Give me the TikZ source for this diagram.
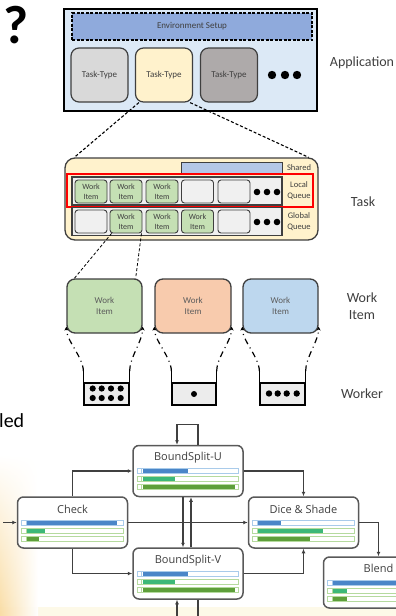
\documentclass[tikz,border=0pt]{standalone}
\usepackage{fontspec}
\setmainfont{Carlito}
\newfontfamily\flowfont{Open Sans}
\usetikzlibrary{arrows.meta,calc,fadings}

\definecolor{ink}{HTML}{3F3F3F}
\definecolor{appfill}{HTML}{DCE9F6}
\definecolor{envfill}{HTML}{8FAADC}
\definecolor{ttgray}{HTML}{D9D9D9}
\definecolor{ttcream}{HTML}{FFF2CC}
\definecolor{tttaupe}{HTML}{AEAAAA}
\definecolor{taskfill}{HTML}{FFF2CC}
\definecolor{sharedfill}{HTML}{B4C7E7}
\definecolor{slotfill}{HTML}{F0F0F0}
\definecolor{itemgreen}{HTML}{C5E0B4}
\definecolor{itemorange}{HTML}{F8CBAD}
\definecolor{itemblue}{HTML}{BDD7EE}
\definecolor{bucketfill}{HTML}{ECECEC}
\definecolor{flowline}{HTML}{404040}
\definecolor{flowborder}{HTML}{595959}
\definecolor{trackblue}{HTML}{A9CBEA}
\definecolor{trackgreen}{HTML}{B5DA9E}
\definecolor{barblue}{HTML}{4A86C8}
\definecolor{bargreen}{HTML}{3DB878}
\definecolor{bardark}{HTML}{5E9F3A}
\definecolor{warmglow}{HTML}{F9DDA6}
\definecolor{paleband}{HTML}{FDF9E8}

% one progress row inside a flow node: node, vertical offset, track colour, bar colour, bar length
\newcommand{\flowrow}[5]{%
  \draw[draw=#3, line width=0.6pt, fill=white]
    ($(#1.west)+(5,#2-2.5)$) rectangle ($(#1.east)+(-5,#2+2.5)$);
  \draw[draw=#3, line width=0.6pt] ($(#1.west)+(9.5,#2-2.5)$) -- ++(0,5);
  \fill[#4] ($(#1.west)+(10.5,#2-2)$) rectangle ++(#5,4);
}

\begin{document}
\begin{tikzpicture}[x=1pt,y=-1pt,
  appbox/.style={draw=black, line width=1.6pt, fill=appfill, minimum width=253, minimum height=102, inner sep=0},
  envbox/.style={draw=black, line width=1.1pt, dash pattern=on 3pt off 1.5pt, fill=envfill,
    minimum width=240, minimum height=27, inner sep=0, font=\fontsize{9}{10}\selectfont, text=ink},
  ttype/.style={draw=ink, line width=1.2pt, rounded corners=8pt, minimum width=57, minimum height=54,
    inner sep=0, font=\fontsize{9}{10}\selectfont, text=ink},
  taskbox/.style={draw=ink, line width=1.3pt, rounded corners=10pt, fill=taskfill, minimum width=253,
    minimum height=82, inner sep=0},
  sharedbox/.style={draw=ink, line width=1pt, fill=sharedfill, minimum width=101, minimum height=11, inner sep=0},
  queuebox/.style={draw=ink, line width=1.3pt, fill=slotfill, minimum width=210, minimum height=28, inner sep=0},
  slot/.style={draw=ink, line width=0.9pt, rounded corners=3pt, fill=slotfill, minimum width=32,
    minimum height=23, inner sep=0, align=center, font=\fontsize{8}{10}\selectfont, text=ink},
  wslot/.style={slot, fill=itemgreen},
  markbox/.style={draw=red, line width=1.2pt, minimum width=246, minimum height=33, inner sep=0},
  qlabel/.style={font=\fontsize{8.5}{11}\selectfont, text=ink, align=center, inner sep=0},
  sidelabel/.style={font=\fontsize{14}{17}\selectfont, text=ink, align=center, inner sep=0},
  bigitem/.style={draw=ink, line width=1.3pt, rounded corners=8pt, minimum width=75, minimum height=54,
    inner sep=0, align=center, font=\fontsize{9}{11}\selectfont, text=ink!85},
  bucket/.style={draw=black, line width=1.2pt, fill=bucketfill, minimum width=45, minimum height=22, inner sep=0},
  zoomline/.style={draw=black, line width=1.1pt, dash pattern=on 3pt off 2pt},
  thinzoom/.style={draw=black, line width=0.8pt, dash pattern=on 3pt off 2pt},
  funnel/.style={draw=black, line width=1.2pt, dash pattern=on 6pt off 4pt on 1pt off 4pt,
    -{Stealth[length=4pt,width=4pt]}},
  bucketside/.style={draw=black, line width=1.2pt},
  flownode/.style={draw=flowborder, line width=1.5pt, rounded corners=6pt, fill=white,
    minimum width=110, minimum height=51, inner sep=0},
  ftitle/.style={font=\flowfont\fontsize{11}{13}\selectfont, text=ink, inner sep=0},
  flow/.style={draw=flowline, line width=1.1pt, -{Latex[length=4.5pt,width=4pt]}}
]
\useasboundingbox (0,0) rectangle (396,616);
\clip (0,0) rectangle (396,616);

% soft backdrop behind the flow graph
\fill[paleband] (0,607) rectangle (396,616);
\shade[left color=warmglow, right color=white, path fading=north] (0,455) rectangle (38,616);

% heading glyph and cut word
\node[font=\bfseries\fontsize{54}{60}\selectfont, inner sep=0] (qmark) at (16,25) {?};
\node[font=\fontsize{20}{24}\selectfont, anchor=base west, inner sep=0] (cutword) at (-1,427) {led};

% ---------- application layer ----------
\node[appbox] (app) at (190.5,60) {};
\node[envbox] (env) at (192,26.5) {Environment Setup};
\node[ttype, fill=ttgray]  (tt1) at (99.5,75) {Task-Type};
\node[ttype, fill=ttcream] (tt2) at (164,75)  {Task-Type};
\node[ttype, fill=tttaupe] (tt3) at (229,75)  {Task-Type};
\foreach \x in {272,285,297} \fill (\x,75) circle (4.2);
\node[sidelabel] (appL) at (362,63) {Application};

% ---------- task layer ----------
\node[taskbox] (task) at (191.5,199) {};
\node[sharedbox] (shared) at (231.5,167.5) {};
\node[qlabel] (sharedL) at (299,167.5) {Shared};

\node[queuebox] (lq) at (177,191) {};
\node[wslot] (l1) at (91,191.5)  {Work\\Item};
\node[wslot] (l2) at (126,191.5) {Work\\Item};
\node[wslot] (l3) at (162,191.5) {Work\\Item};
\node[slot]  (l4) at (197.5,191.5) {};
\node[slot]  (l5) at (234,191.5) {};
\foreach \x in {257,267,277} \fill (\x,192) circle (3.3);
\node[markbox] (lqmark) at (190,190.5) {};
\node[qlabel] (lqL) at (299,190.5) {Local\\Queue};

\node[queuebox] (gq) at (177,221.5) {};
\node[slot]  (g1) at (91,221.5)  {};
\node[wslot] (g2) at (126,221.5) {Work\\Item};
\node[wslot] (g3) at (162,221.5) {Work\\Item};
\node[wslot] (g4) at (197.5,221.5) {Work\\Item};
\node[slot]  (g5) at (234,221.5) {};
\foreach \x in {257,267,277} \fill (\x,222) circle (3.3);
\node[qlabel] (gqL) at (299,222) {Global\\Queue};
\node[sidelabel] (taskL) at (363,202) {Task};

% zoom lines from a task type into the task
\draw[zoomline] ([xshift=4pt]tt2.south west) -- ([xshift=10pt]task.north west);
\draw[zoomline] ([xshift=-3pt]tt2.south east) -- ([xshift=-10pt]task.north east);

% ---------- work items ----------
\node[bigitem, fill=itemgreen]  (wiG) at (104.5,306) {Work\\Item};
\node[bigitem, fill=itemorange, minimum width=76] (wiO) at (193,306) {Work\\Item};
\node[bigitem, fill=itemblue]   (wiB) at (280.5,306) {Work\\Item};
\node[sidelabel] (wiL) at (362,306.5) {Work\\Item};

\draw[thinzoom] ([xshift=2pt]g2.south west) -- ([xshift=8pt]wiG.north west);
\draw[thinzoom] ([xshift=-1pt]g2.south east) -- ([xshift=-7pt]wiG.north east);

% ---------- workers ----------
\node[bucket] (wkG) at (106.5,394) {};
\node[bucket, minimum width=44] (wkO) at (194,394) {};
\node[bucket] (wkB) at (282.5,394) {};
\node[sidelabel] (wkL) at (362,394) {Worker};

\foreach \x in {92.7,101.7,111,120.7} {\fill (\x,388.5) circle (3.1); \fill (\x,398) circle (3.1);}
\fill (194,394) circle (3);
\foreach \x in {269,277.7,286.7,296.7} \fill (\x,393.5) circle (3.2);

% bucket walls and the dash-dot hand-off to each work item
\foreach \w/\i in {wkG/wiG, wkO/wiO, wkB/wiB} {
  \draw[bucketside] (\w.north west) -- ++(0,-11);
  \draw[bucketside] (\w.north east) -- ++(0,-11);
  \draw[funnel] ($(\w.north west)+(0,-11)$) .. controls +(0,-14) and +(0,14) .. ([yshift=7pt]\i.south west);
  \draw[funnel] ($(\w.north east)+(0,-11)$) .. controls +(0,-14) and +(0,14) .. ([yshift=7pt]\i.south east);
}

% ---------- flow graph ----------
\node[flownode] (check) at (72.5,522.5) {};
\node[flownode] (bsu)   at (188,471)    {};
\node[flownode] (bsv)   at (188,573.5)  {};
\node[flownode] (dice)  at (303.5,522.5) {};
\node[flownode] (blend) at (378.5,582.5) {};

\node[ftitle] (checkT) at ([yshift=-13pt]check.north) {Check};
\node[ftitle] (bsuT)   at ([yshift=-13pt]bsu.north)   {BoundSplit-U};
\node[ftitle] (bsvT)   at ([yshift=-13pt]bsv.north)   {BoundSplit-V};
\node[ftitle] (diceT)  at ([yshift=-13pt]dice.north)  {Dice \& Shade};
\node[ftitle] (blendT) at ([yshift=-12pt]blend.north) {Blend};

\flowrow{check}{0}{trackblue}{barblue}{90}
\flowrow{check}{8}{trackgreen}{bargreen}{18}
\flowrow{check}{16}{trackgreen}{bardark}{12}
\flowrow{bsu}{0}{trackblue}{barblue}{45}
\flowrow{bsu}{8}{trackgreen}{bargreen}{32}
\flowrow{bsu}{16}{trackgreen}{bardark}{92}
\flowrow{bsv}{0}{trackblue}{barblue}{45}
\flowrow{bsv}{8}{trackgreen}{bargreen}{32}
\flowrow{bsv}{16}{trackgreen}{bardark}{92}
\flowrow{dice}{0}{trackblue}{barblue}{23}
\flowrow{dice}{8}{trackgreen}{bargreen}{65}
\flowrow{dice}{16}{trackgreen}{bardark}{52}
\flowrow{blend}{0}{trackblue}{barblue}{92}
\flowrow{blend}{8}{trackgreen}{bargreen}{14}
\flowrow{blend}{16}{trackgreen}{bardark}{14}

\coordinate (entry) at (3,522.5);
\draw[flow] (entry) -- (check.west);
\draw[flow] (check.north) |- (bsu.west);
\draw[flow] (check.south) |- (bsv.west);
\draw[flow] (check.east) -- (dice.west);
\draw[flow] (bsu.east) -| (dice.north);
\draw[flow] (bsv.east) -| (dice.south);
\draw[flow] (dice.east) -| (blend.north);
\draw[flow] ([xshift=-5pt]bsu.south) -- ([xshift=-5pt]bsv.north);
\draw[flow] ([xshift=3pt]bsv.north) -- ([xshift=3pt]bsu.south);
\draw[flow] ([xshift=10pt]bsu.north) -- ++(0,-20) -| ([xshift=-11pt]bsu.north);
\draw[flow] ([xshift=10pt]bsv.south) -- ++(0,25) -| ([xshift=-11pt]bsv.south);
\end{tikzpicture}
\end{document}
